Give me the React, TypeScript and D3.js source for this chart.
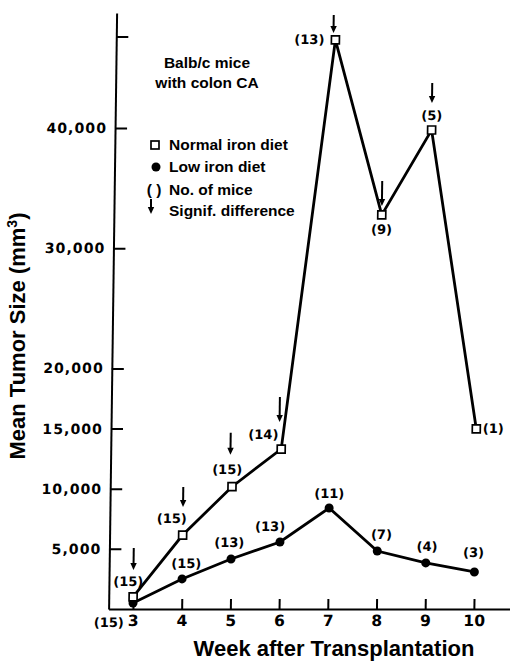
import * as d3 from "d3";
import { useEffect, useRef } from "react";

// values
const weeks = [3, 4, 5, 6, 7, 8, 9, 10];
const normalIron = [1000, 6150, 10170, 13300, 47320, 32770, 39830, 14970];
const lowIron = [500, 2500, 4160, 5570, 8400, 4820, 3830, 3080];
const normalMice = [15, 15, 15, 14, 13, 9, 5, 1];
const lowMice = [15, 15, 13, 13, 11, 7, 4, 3];
const signif = [true, true, true, true, true, true, true, false];
const yTicks = [5000, 10000, 15000, 20000, 30000, 40000, 47600];
const yTickLabels = ["5,000", "10,000", "15,000", "20,000", "30,000", "40,000", ""];

// label placement relative to each marker (layout only)
const normalLabelPos = [[-5, -15], [-11, -17], [-5, -17], [-18, -15], [-26, 0], [0, 15], [0, -15], [17, 0]];
const lowLabelPos = [[-24, 20], [4, -15], [-2, -16], [-10, -16], [0, -14], [4, -17], [1, -16], [-1, -19]];
const arrowPos = [[0, -49, -27], [0, -48, -28], [-2, -54, -32], [-2, -52, -27], [-2, -25, -7], [0, -34, -9], [0, -47, -27]];

const W = 510;
const H = 663;
const base = 609;
const wordFont = "'Liberation Sans', Arial, sans-serif";
const numFont = "'DejaVu Sans', sans-serif";

function arrow(g: d3.Selection<SVGGElement, unknown, null, undefined>, x: number, top: number, tip: number) {
  g.append("line")
    .attr("x1", x).attr("x2", x)
    .attr("y1", top).attr("y2", tip - 5)
    .attr("stroke", "#000").attr("stroke-width", 2);
  g.append("path")
    .attr("d", `M${x - 3.2},${tip - 7} L${x + 3.2},${tip - 7} L${x},${tip} Z`)
    .attr("fill", "#000");
}

export default function App() {
  const ref = useRef<SVGSVGElement>(null);

  useEffect(() => {
    draw();
  });

  function draw() {
    const svg = d3.select(ref.current);
    svg.selectAll("*").remove();

    svg.append("rect").attr("width", W).attr("height", H).attr("fill", "#fff");

    // the scan has a slightly leaning y axis, so shear the plot a little
    const plot = svg
      .append("g")
      .attr("transform", `translate(0,${base}) skewX(-0.77) translate(0,${-base})`);

    const x = d3.scaleLinear().domain([2.5, 10.75]).range([108.6, 510.4]);
    const y = d3.scaleLinear().domain([0, 49560]).range([base, 13]);

    // y axis
    const yAxis = plot
      .append("g")
      .attr("transform", `translate(${x(2.5)},0)`)
      .call(
        d3.axisLeft(y)
          .tickValues(yTicks)
          .tickFormat((_, i) => yTickLabels[i])
          .tickSizeInner(-12)
          .tickSizeOuter(0)
          .tickPadding(8)
      );
    yAxis.select(".domain").attr("stroke-width", 2);
    yAxis.selectAll(".tick line").attr("stroke-width", 2);
    yAxis.selectAll(".tick text")
      .attr("font-family", numFont)
      .attr("font-weight", "bold")
      .attr("font-size", 14)
      .attr("letter-spacing", 1.1)
      .attr("fill", "#000");

    // x axis
    const xAxis = plot
      .append("g")
      .attr("transform", `translate(0,${base})`)
      .call(
        d3.axisBottom(x)
          .tickValues(weeks)
          .tickFormat(d3.format("d"))
          .tickSizeInner(-10)
          .tickSizeOuter(0)
          .tickPadding(6)
      );
    xAxis.select(".domain").attr("stroke-width", 2);
    xAxis.selectAll(".tick line").attr("stroke-width", 2);
    xAxis.selectAll(".tick text")
      .attr("font-family", numFont)
      .attr("font-weight", "bold")
      .attr("font-size", 15.5)
      .attr("fill", "#000");

    // lines
    const line = d3
      .line<number>()
      .x((_, i) => x(weeks[i]))
      .y((d) => y(d));

    plot.append("path")
      .datum(normalIron)
      .attr("d", line)
      .attr("fill", "none")
      .attr("stroke", "#000")
      .attr("stroke-width", 2.8);
    plot.append("path")
      .datum(lowIron)
      .attr("d", line)
      .attr("fill", "none")
      .attr("stroke", "#000")
      .attr("stroke-width", 2.8);

    // markers
    plot.append("g")
      .selectAll("circle")
      .data(lowIron)
      .enter()
      .append("circle")
      .attr("cx", (_, i) => x(weeks[i]))
      .attr("cy", (d) => y(d))
      .attr("r", 4.5)
      .attr("fill", "#000");
    plot.append("g")
      .selectAll("rect")
      .data(normalIron)
      .enter()
      .append("rect")
      .attr("x", (_, i) => x(weeks[i]) - 4)
      .attr("y", (d) => y(d) - 4)
      .attr("width", 8)
      .attr("height", 8)
      .attr("fill", "#fff")
      .attr("stroke", "#000")
      .attr("stroke-width", 1.7);

    // number of mice
    const labels = plot.append("g")
      .attr("font-family", numFont)
      .attr("font-weight", "bold")
      .attr("font-size", 13)
      .attr("text-anchor", "middle")
      .attr("dominant-baseline", "central");
    normalMice.forEach((n, i) => {
      labels.append("text")
        .attr("x", x(weeks[i]) + normalLabelPos[i][0])
        .attr("y", y(normalIron[i]) + normalLabelPos[i][1])
        .text(`(${n})`);
    });
    lowMice.forEach((n, i) => {
      labels.append("text")
        .attr("x", x(weeks[i]) + lowLabelPos[i][0])
        .attr("y", y(lowIron[i]) + lowLabelPos[i][1])
        .text(`(${n})`);
    });

    // significance arrows
    const arrows = plot.append("g");
    signif.forEach((s, i) => {
      if (!s) return;
      const p = arrowPos[i];
      const px = x(weeks[i]) + p[0];
      const py = y(normalIron[i]);
      arrow(arrows, px, py + p[1], py + p[2]);
    });

    // axis titles
    svg.append("text")
      .attr("transform", "translate(25,336) rotate(-90)")
      .attr("text-anchor", "middle")
      .attr("font-family", wordFont)
      .attr("font-weight", "bold")
      .attr("font-size", 22)
      .call((t) => {
        t.append("tspan").text("Mean Tumor Size (mm");
        t.append("tspan").attr("font-size", 14).attr("dy", -8).text("3");
        t.append("tspan").attr("dy", 8).text(")");
      });
    svg.append("text")
      .attr("x", 334)
      .attr("y", 656)
      .attr("text-anchor", "middle")
      .attr("font-family", wordFont)
      .attr("font-weight", "bold")
      .attr("font-size", 22)
      .text("Week after Transplantation");

    // caption and legend
    const legend = svg.append("g")
      .attr("font-family", wordFont)
      .attr("font-weight", "bold")
      .attr("font-size", 15.5)
      .attr("fill", "#000");
    legend.append("text").attr("x", 207).attr("y", 68).attr("text-anchor", "middle").text("Balb/c mice");
    legend.append("text").attr("x", 207).attr("y", 88).attr("text-anchor", "middle").text("with colon CA");

    legend.append("rect")
      .attr("x", 151).attr("y", 141).attr("width", 8).attr("height", 8)
      .attr("fill", "#fff").attr("stroke", "#000").attr("stroke-width", 1.7);
    legend.append("text").attr("x", 169).attr("y", 150).text("Normal iron diet");
    legend.append("circle").attr("cx", 156).attr("cy", 167).attr("r", 4.5).attr("fill", "#000");
    legend.append("text").attr("x", 169).attr("y", 172).text("Low iron diet");
    legend.append("text").attr("x", 154).attr("y", 195).attr("text-anchor", "middle").text("(  )");
    legend.append("text").attr("x", 169).attr("y", 195).text("No. of mice");
    arrow(legend, 151, 199, 214);
    legend.append("text").attr("x", 169).attr("y", 216).text("Signif. difference");
  }

  return (
    <svg
      ref={ref}
      width={W}
      height={H}
      style={{ position: "absolute", left: 0, top: 0 }}
    ></svg>
  );
}
